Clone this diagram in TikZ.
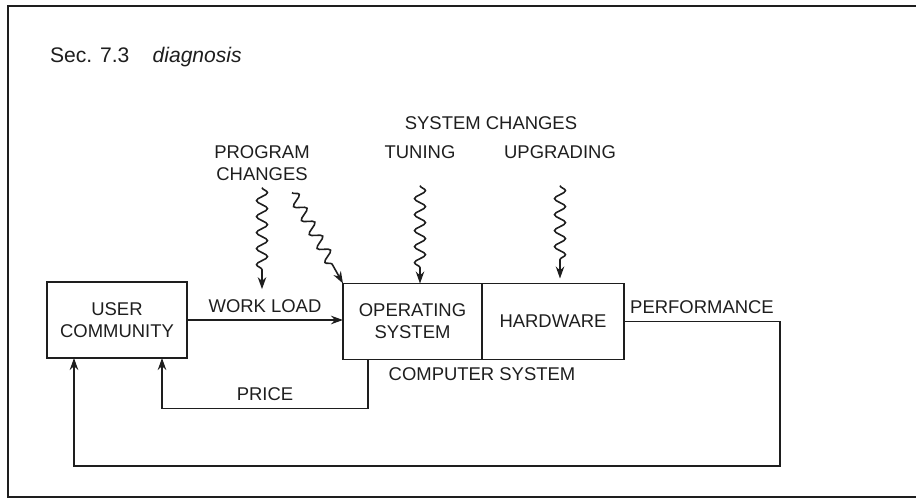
\documentclass[tikz,border=0pt]{standalone}
\usepackage{fontspec}
\setmainfont{Liberation Sans}
\usetikzlibrary{arrows.meta, positioning, calc, decorations.pathmorphing}
\definecolor{ink}{HTML}{1E1E1E}

\begin{document}
\begin{tikzpicture}[
    block/.style={draw=ink, line width=1pt, outer sep=0pt, minimum width=2.8cm,
                  minimum height=1.52cm, align=center, text=ink,
                  font=\fontsize{10.5}{12.5}\selectfont},
    tag/.style={font=\fontsize{10.5}{12.5}\selectfont, text=ink, align=center,
                inner sep=1pt},
    flow/.style={-{Stealth[length=2.4mm, width=1.7mm]}, draw=ink, line width=1pt},
    squiggle/.style={flow, line width=0.9pt, decorate,
                     decoration={snake, amplitude=1.1mm, segment length=3.2mm,
                                 post length=3mm}}
  ]
    \useasboundingbox (0,0) rectangle (18.32,10.04);
    \draw[ink, line width=1.2pt] (18.4,9.92) -- (0.16,9.92) -- (0.16,0.10) -- (18.4,0.10);

    \node[tag, anchor=base west, font=\fontsize{12}{14}\selectfont] (sec) at (0.96,8.78)
      {Sec. 7.3\hspace{1.1em}\textit{diagnosis}};

    \node[block] (user) at (2.34,3.64) {USER\\COMMUNITY};
    \node[block, minimum width=2.78cm] (os) at (8.25,3.61) {OPERATING\\SYSTEM};
    \node[block, right=0pt of os, minimum width=2.84cm] (hw) {HARDWARE};
    \node[tag, below=1.2mm of os.south east] (cs) {COMPUTER SYSTEM};

    \node[tag] (prog) at (5.24,6.78) {PROGRAM\\CHANGES};
    \node[tag] (sys)  at (9.82,7.58) {SYSTEM CHANGES};
    \node[tag] (tune) at (8.4,7.0)   {TUNING};
    \node[tag] (upg)  at (11.2,7.0)  {UPGRADING};

    \draw[flow] (user.east) -- node[tag, above=1mm] (wl) {WORK LOAD} (user.east -| os.west);
    \draw[flow] ([xshift=5mm]os.south west) -- ++(0,-0.98)
      -| node[tag, above=1mm, pos=0.25] (price) {PRICE} ([xshift=9mm]user.south);
    \coordinate (perfturn) at (15.6,0.72);
    \draw[flow] (hw.east) -| node[tag, above=1mm, pos=0.25] (perf) {PERFORMANCE} (perfturn)
      -| ([xshift=-8.6mm]user.south);

    \draw[squiggle] ([yshift=-1mm]prog.south) -- ([yshift=1.5mm]prog.south |- wl.north);
    \draw[squiggle] ([xshift=6mm,yshift=-2mm]prog.south) -- (os.north west);
    \draw[squiggle] ([yshift=-5mm]tune.south) -- (tune.south |- os.north);
    \draw[squiggle] ([yshift=-5mm]upg.south) -- ([yshift=1mm]upg.south |- hw.north);
  \end{tikzpicture}
\end{document}
